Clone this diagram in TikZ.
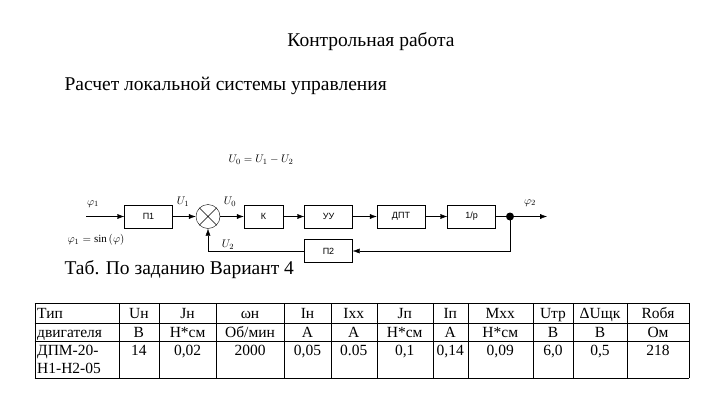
\documentclass[tikz,border=0pt]{standalone}
\usepackage{fontspec}
\setmainfont{Liberation Serif}
\newfontfamily\blkfont{Liberation Sans}
\usetikzlibrary{positioning,arrows.meta}
\tikzset{
    blk/.style={draw,minimum width=48pt,minimum height=23pt,inner sep=0pt,font=\blkfont\fontsize{9}{10}\selectfont},
    sig/.style={font=\fontsize{11}{12}\selectfont,inner sep=1pt},
    cell/.style={font=\fontsize{15.5}{16}\selectfont,inner sep=0pt,anchor=base}
}
\begin{document}
\begin{tikzpicture}[x=1pt,y=-1pt,>={Latex[length=7pt,width=5pt]}]
    \useasboundingbox (0,0) rectangle (719,415);
    % texts
    \node[font=\fontsize{19.5}{22}\selectfont] (title) at (371,42) {Контрольная работа};
    \node[font=\fontsize{19.5}{22}\selectfont,anchor=west] (head) at (61,86) {Расчет локальной системы управления};
    \node[font=\fontsize{19.5}{22}\selectfont,anchor=west] (tab) at (61,270) {Таб. По заданию Вариант 4};
    \node[sig] (eq) at (261,160) {$U_0=U_1-U_2$};
    % blocks
    \node[blk] (p1) at (148.5,216.5) {П1};
    \node[draw,circle,minimum size=24pt,inner sep=0pt] (sum) at (208,216.5) {};
    \draw (sum.45) -- (sum.225) (sum.135) -- (sum.315);
    \node[blk,minimum width=39pt] (k) at (263.5,216.5) {К};
    \node[blk] (uu) at (328.5,216.5) {УУ};
    \node[blk] (dpt) at (401,216.5) {ДПТ};
    \node[blk] (int) at (471.5,216.5) {1/р};
    \node[blk] (p2) at (328.5,251) {П2};
    \coordinate (in) at (86,216.5);
    \coordinate (out) at (547,216.5);
    \coordinate (fb) at (510,216.5);
    \fill (fb) circle (4pt);
    % connectors
    \foreach \a/\b in {in/p1,p1/sum,sum/k,k/uu,uu/dpt,dpt/int} {
        \draw[->] (\a) -- (\b);
    }
    \draw[->] (int) -- (out);
    \draw[->] (fb) |- (p2);
    \draw[->] (p2) -| (sum);
    % signal labels
    \node[sig] (lphi1) at (93,204) {$\varphi_1$};
    \node[sig] (lu1) at (183,202) {$U_1$};
    \node[sig] (lu0) at (230,202) {$U_0$};
    \node[sig] (lphi2) at (530,203) {$\varphi_2$};
    \node[sig] (lsin) at (96,240) {$\varphi_1=\mathrm{sin}\,(\varphi)$};
    \node[sig] (lu2) at (228,245) {$U_2$};
    % table
    \foreach \x in {34.7,118.7,159.3,216,284,331,376.7,432.7,468,532.7,573.3,626.7,689.3} {
        \draw (\x,303.3) -- (\x,378.3);
    }
    \foreach \y in {303.3,322.7,341,378.3} {
        \draw (34.7,\y) -- (689.3,\y);
    }
    \node[cell,anchor=base west] (t1) at (37,318) {Тип};
    \node[cell,anchor=base west] (t2) at (37,337) {двигателя};
    \node[cell,anchor=base west] (t3) at (37,355) {ДПМ-20-};
    \node[cell,anchor=base west] (t4) at (37,373) {Н1-Н2-05};
    \foreach \c/\h/\u/\v in {
        138.9/Uн/В/14, 187.6/Jн/Н*см/{0,02}, 250/ωн/{Об/мин}/2000,
        307.5/Iн/А/{0,05}, 353.8/Ixx/А/0.05, 404.7/Jп/Н*см/{0,1},
        450.3/Iп/А/{0,14}, 500.3/Mxx/Н*см/{0,09}, 553/Uтр/В/{6,0},
        600/ΔUщк/В/{0,5}, 658/Rобя/Ом/218} {
        \node[cell] at (\c,318) {\h};
        \node[cell] at (\c,337) {\u};
        \node[cell] at (\c,355) {\v};
    }
\end{tikzpicture}
\end{document}
